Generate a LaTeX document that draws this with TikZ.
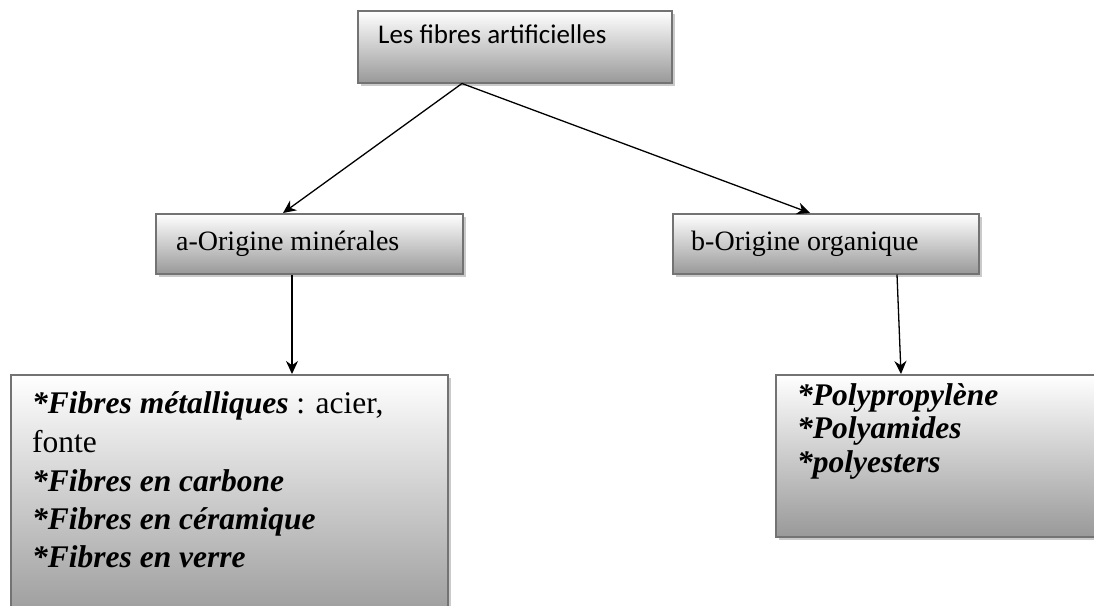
\documentclass[tikz,border=0pt]{standalone}
\usepackage{fontspec}
\setmainfont{Liberation Serif}
\newfontfamily\calib{Carlito}
\usetikzlibrary{shadows,calc,arrows.meta}
\tikzset{
  boxstyle/.style={rectangle, draw=black!55, line width=1.5pt, top color=white, bottom color=black!40,
    drop shadow={shadow xshift=3pt, shadow yshift=-3pt, fill=black!35, opacity=0.6},
    inner sep=0pt, anchor=north west},
  lbl/.style={inner sep=0pt, anchor=base west},
  arr/.style={-{Stealth[length=13pt,width=12pt]}, line width=1.3pt, black},
}
\newcommand{\bigtxt}[1]{\fontsize{31.5}{38}\selectfont #1}
\newcommand{\midtxt}[1]{\fontsize{28}{32}\selectfont #1}
\begin{document}
\begin{tikzpicture}[x=1pt,y=-1pt]
\useasboundingbox (0,0) rectangle (1094,605);
% boxes
\node[boxstyle, minimum width=314pt, minimum height=72pt] (top) at (357,10) {};
\node[boxstyle, minimum width=307pt, minimum height=60pt] (a) at (155,213) {};
\node[boxstyle, minimum width=306pt, minimum height=60pt] (b) at (672,213) {};
\node[boxstyle, minimum width=437pt, minimum height=250pt] (la) at (10,374) {};
\node[boxstyle, minimum width=340pt, minimum height=162pt] (lb) at (775,374) {};
% texts
\node[lbl] (ttop) at (378,43) {\calib\fontsize{27}{30}\selectfont Les fibres artificielles};
\node[lbl] (ta) at (176,250) {\midtxt{a-Origine minérales}};
\node[lbl] (tb) at (691,250) {\midtxt{b-Origine organique}};
\node[lbl] (la1) at (32,413) {\bigtxt{\textbf{\textit{*Fibres métalliques}} : acier,}};
\node[lbl] (la2) at (32,452) {\bigtxt{fonte}};
\node[lbl] (la3) at (32,491) {\bigtxt{\textbf{\textit{*Fibres en carbone}}}};
\node[lbl] (la4) at (32,529) {\bigtxt{\textbf{\textit{*Fibres en céramique}}}};
\node[lbl] (la5) at (32,567) {\bigtxt{\textbf{\textit{*Fibres en verre}}}};
\node[lbl] (lb1) at (797,405) {\bigtxt{\textbf{\textit{*Polypropylène}}}};
\node[lbl] (lb2) at (797,438) {\bigtxt{\textbf{\textit{*Polyamides}}}};
\node[lbl] (lb3) at (797,472) {\bigtxt{\textbf{\textit{*polyesters}}}};
% connectors
\draw[arr] ($(top.south west)+(105,0)$) -- ($(a.north west)+(128,0)$);
\draw[arr] ($(top.south west)+(105,0)$) -- ($(b.north west)+(138,0)$);
\draw[arr] ($(a.south west)+(137,0)$) -- ($(la.north west)+(282,0)$);
\draw[arr] ($(b.south west)+(225,0)$) -- ($(lb.north west)+(126,0)$);
\end{tikzpicture}
\end{document}
